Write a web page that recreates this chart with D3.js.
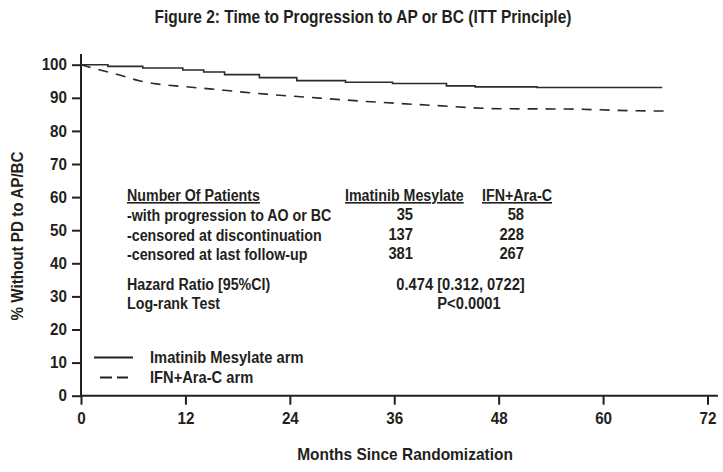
<!DOCTYPE html>
<html lang="en">
<head>
    <meta charset="UTF-8">
    <title>Figure 2</title>
    <script src="https://d3js.org/d3.v7.min.js"></script>
    <style>
        body { margin: 0; background: #fff; }
        text { font-family: "Liberation Sans", Arial, sans-serif; font-weight: bold; fill: #231f20; }
    </style>
</head>
<body>
    <script>
        // time to progression curves
        var imaTime = [0, 3.1, 7.1, 11.7, 14.1, 16.5, 20.5, 24.8, 30.4, 35.8, 42.0, 45.3, 52.4, 66.8];
        var imaSurv = [100, 99.5, 99.0, 98.4, 97.8, 97.0, 96.1, 95.2, 94.7, 94.3, 93.6, 93.3, 93.1, 93.1];

        var ifnTime = [0, 2.2, 4.1, 6.8, 8.7, 11.8, 14.8, 17.9, 21.3, 25.9, 32.8, 40.5, 48.1, 55.8, 63.5, 67.2];
        var ifnSurv = [100, 98.4, 97.1, 95.1, 94.2, 93.4, 92.7, 91.9, 91.1, 90.2, 88.9, 87.7, 86.7, 86.6, 86.1, 86.0];

        var xTicks = [0, 12, 24, 36, 48, 60, 72];
        var yTicks = [0, 10, 20, 30, 40, 50, 60, 70, 80, 90, 100];

        var tableHead = ['Number Of Patients', 'Imatinib Mesylate', 'IFN+Ara-C'];
        var rowLabels = ['-with progression to AO or BC', '-censored at discontinuation', '-censored at last follow-up'];
        var imaCounts = ['35', '137', '381'];
        var ifnCounts = ['58', '228', '267'];
        var statLabels = ['Hazard Ratio [95%CI)', 'Log-rank Test'];
        var statValues = ['0.474 [0.312, 0722]', 'P<0.0001'];
        var legendLabels = ['Imatinib Mesylate arm', 'IFN+Ara-C arm'];

        var w = 723, h = 472;
        var svg = d3.select('body').append('svg')
                    .attr('width', w)
                    .attr('height', h);

        // the original uses a condensed face; squeeze the text to fake it
        function squeeze(sel, k) {
            sel.each(function() {
                var len = this.getComputedTextLength();
                d3.select(this)
                  .attr('textLength', len * k)
                  .attr('lengthAdjust', 'spacingAndGlyphs');
            });
            return sel;
        }

        var x = d3.scaleLinear().domain([0, 72]).range([81, 707.5]);
        var y = d3.scaleLinear().domain([0, 100]).range([395.7, 64.7]);

        // title
        svg.append('text')
           .attr('x', 363).attr('y', 23)
           .attr('text-anchor', 'middle')
           .style('font-size', '18px')
           .text('Figure 2: Time to Progression to AP or BC (ITT Principle)')
           .call(squeeze, 0.86);

        // axes
        var xAxis = d3.axisBottom(x).tickValues(xTicks).tickSizeOuter(0).tickSize(9).tickPadding(8);
        var yAxis = d3.axisLeft(y).tickValues(yTicks).tickSizeOuter(0).tickSize(9).tickPadding(5);

        var gx = svg.append('g').attr('transform', 'translate(0,' + y(0) + ')').call(xAxis);
        var gy = svg.append('g').attr('transform', 'translate(' + x(0) + ',0)').call(yAxis);

        [gx, gy].forEach(function(g) {
            g.select('.domain').remove();
            g.selectAll('.tick line').attr('stroke', '#231f20').attr('stroke-width', 2);
            g.selectAll('.tick text')
             .style('font-size', '16px')
             .style('font-family', '"Liberation Sans", Arial, sans-serif')
             .style('font-weight', 'bold')
             .attr('fill', '#231f20')
             .call(squeeze, 0.95);
        });

        // axis lines run a little past the last tick
        svg.append('line')
           .attr('x1', x(0)).attr('x2', x(73.2))
           .attr('y1', y(0)).attr('y2', y(0))
           .attr('stroke', '#231f20').attr('stroke-width', 2);
        svg.append('line')
           .attr('x1', x(0)).attr('x2', x(0))
           .attr('y1', y(0)).attr('y2', y(103.2))
           .attr('stroke', '#231f20').attr('stroke-width', 2);

        // curves
        var ima = imaTime.map(function(t, i) { return [t, imaSurv[i]]; });
        var ifn = ifnTime.map(function(t, i) { return [t, ifnSurv[i]]; });

        var stepLine = d3.line()
                         .x(function(d) { return x(d[0]); })
                         .y(function(d) { return y(d[1]); })
                         .curve(d3.curveStepAfter);
        var smoothLine = d3.line()
                           .x(function(d) { return x(d[0]); })
                           .y(function(d) { return y(d[1]); })
                           .curve(d3.curveMonotoneX);

        svg.append('path')
           .attr('d', stepLine(ima))
           .attr('fill', 'none')
           .attr('stroke', '#2a2a2a')
           .attr('stroke-width', 1.6);

        svg.append('path')
           .attr('d', smoothLine(ifn))
           .attr('fill', 'none')
           .attr('stroke', '#2a2a2a')
           .attr('stroke-width', 1.6)
           .attr('stroke-dasharray', '10,8');

        // table of patient numbers
        var fs = '16px';
        var k = 0.89;
        var headX = [127, 345, 482];
        svg.append('g').selectAll('text')
            .data(tableHead)
            .enter()
            .append('text')
            .attr('x', function(d, i) { return headX[i]; })
            .attr('y', 201)
            .style('font-size', fs)
            .style('text-decoration', 'underline')
            .text(function(d) { return d; })
            .call(squeeze, k);

        rowLabels.forEach(function(r, i) {
            var yy = 221 + i * 19.5;
            svg.append('text').attr('x', 127).attr('y', yy).style('font-size', fs).text(r).call(squeeze, k);
            svg.append('text').attr('x', 413).attr('y', yy - 1).attr('text-anchor', 'end').style('font-size', fs).text(imaCounts[i]).call(squeeze, 0.92);
            svg.append('text').attr('x', 524).attr('y', yy - 1).attr('text-anchor', 'end').style('font-size', fs).text(ifnCounts[i]).call(squeeze, 0.92);
        });

        var statX = [460.5, 469];
        statLabels.forEach(function(s, i) {
            var yy = 290 + i * 18.5;
            svg.append('text').attr('x', 127).attr('y', yy).style('font-size', fs).text(s).call(squeeze, k);
            svg.append('text').attr('x', statX[i]).attr('y', yy).attr('text-anchor', 'middle').style('font-size', fs).text(statValues[i]).call(squeeze, 0.92);
        });

        // legend
        var legend = svg.append('g');
        legend.append('line')
              .attr('x1', 94).attr('x2', 133).attr('y1', 357.5).attr('y2', 357.5)
              .attr('stroke', '#231f20').attr('stroke-width', 1.8);
        legend.append('line')
              .attr('x1', 100).attr('x2', 128).attr('y1', 377.5).attr('y2', 377.5)
              .attr('stroke', '#231f20').attr('stroke-width', 1.8)
              .attr('stroke-dasharray', '12,5');
        legend.selectAll('text')
              .data(legendLabels)
              .enter()
              .append('text')
              .attr('x', 150)
              .attr('y', function(d, i) { return 362.5 + i * 20; })
              .style('font-size', '16.5px')
              .text(function(d) { return d; })
              .call(squeeze, 0.89);

        // axis titles
        svg.append('text')
           .attr('x', 405).attr('y', 460)
           .attr('text-anchor', 'middle')
           .style('font-size', '17px')
           .text('Months Since Randomization')
           .call(squeeze, 0.91);

        svg.append('text')
           .attr('transform', 'translate(23,236) rotate(-90)')
           .attr('text-anchor', 'middle')
           .style('font-size', '17px')
           .text('% Without PD to AP/BC')
           .call(squeeze, 0.895);
    </script>
</body>
</html>
